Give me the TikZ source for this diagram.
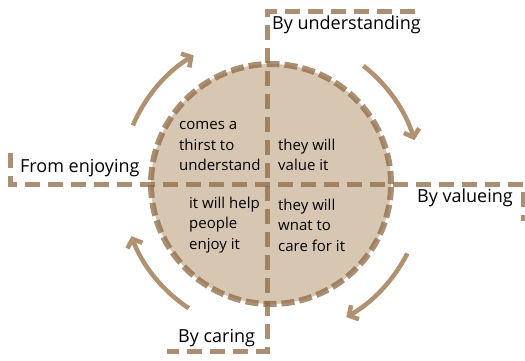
\documentclass[tikz,border=0pt]{standalone}
\usepackage{fontspec}
\setmainfont{Open Sans}
\usetikzlibrary{arrows.meta,calc}
\definecolor{tan}{RGB}{143,106,69}
\definecolor{disk}{RGB}{214,198,178}
\definecolor{arrowtan}{RGB}{176,145,114}

\begin{document}
\begin{tikzpicture}[x=1pt,y=-1pt,
  guide/.style={draw=tan, draw opacity=0.75, line width=5pt, dash pattern=on 15pt off 8pt},
  rim/.style={draw=tan, draw opacity=0.75, line width=6pt, dash pattern=on 13pt off 5pt},
  cycle arrow/.style={draw=arrowtan, line width=4.5pt, -{Straight Barb[length=7pt,width=16pt]}},
  quad/.style={font=\fontsize{15}{20.5}\selectfont, align=left, anchor=west, inner sep=0pt},
  sidelabel/.style={font=\fontsize{18}{21}\selectfont, inner sep=0pt, anchor=west}]

\useasboundingbox (0,0) rectangle (525,361);

% the disc
\coordinate (c) at (271,184);
\fill[disk] (c) circle[radius=120pt];

% the two bracketed axes
\coordinate (h0) at (10,153);
\coordinate (h1) at (10,184);
\coordinate (h2) at (523,184);
\coordinate (h3) at (523,221);
\draw[guide] (h0) -- (h1) -- (h2) -- (h3);

\coordinate (v0) at (415,12);
\coordinate (v1) at (267,12);
\coordinate (v2) at (267,351);
\coordinate (v3) at (167,351);
\draw[guide] (v0) -- (v1) -- (v2) -- (v3);

% dashed rim of the disc
\draw[rim] (c) circle[radius=120pt];

% quadrant texts
\node[quad] (q1) at (179,146) {comes a\\thirst to\\understand};
\node[quad] (q2) at (278,155) {they will\\value it};
\node[quad] (q3) at (189,225) {it will help\\people\\enjoy it};
\node[quad] (q4) at (278,225) {they will\\wnat to\\care for it};

% axis labels
\node[sidelabel] (under) at (272,25) {By understanding};
\node[sidelabel] (enjoy) at (20,168) {From enjoying};
\node[sidelabel] (value) at (417,198) {By valueing};
\node[sidelabel] (care) at (178,338) {By caring};

% clockwise cycle arrows
\draw[cycle arrow] ($(c)+(157:150pt)$) arc[start angle=157, end angle=121, radius=150pt];
\draw[cycle arrow] ($(c)+(52:150pt)$) arc[start angle=52, end angle=17, radius=150pt];
\draw[cycle arrow] ($(c)+(-27:153pt)$) arc[start angle=-27, end angle=-60.5, radius=153pt];
\draw[cycle arrow] ($(c)+(-123.5:149pt)$) arc[start angle=-123.5, end angle=-159.5, radius=149pt];
\end{tikzpicture}
\end{document}
